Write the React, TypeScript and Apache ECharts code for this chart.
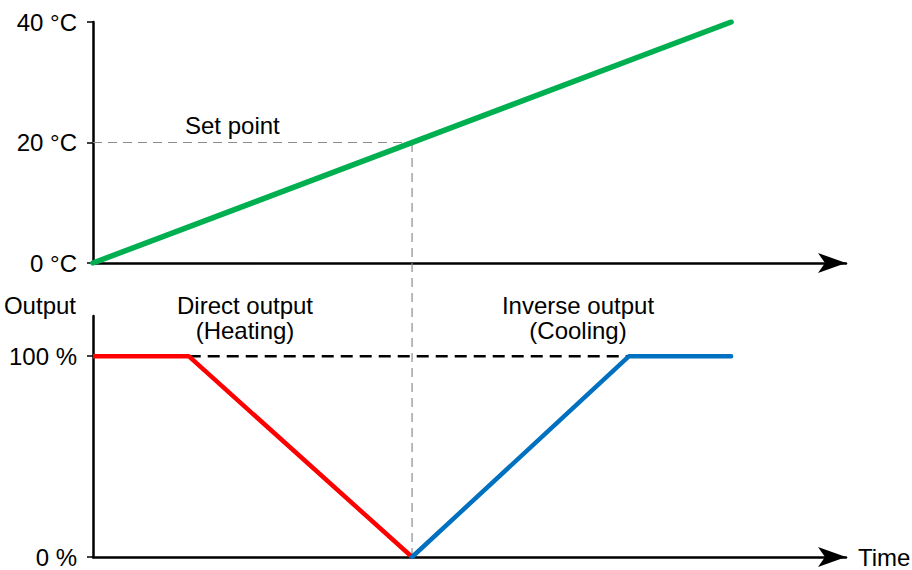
import React, { useEffect, useRef } from "react";
import * as echarts from "echarts";

// Time axis (arbitrary units): set point reached at t = 10
const temperature = [[0, 0], [20, 40]]; // time, °C
const setPoint = [[0, 20], [10, 20]];
const setPointDrop = [[10, 0], [10, 1]];
const heating = [[0, 100], [3, 100], [10, 0]]; // direct output (%)
const cooling = [[10, 0], [16.8, 100], [20, 100]]; // inverse output (%)
const fullOutput = [[3, 100], [16.8, 100]];
const tempTicks = [0, 20, 40];
const outputTicks = [0, 100];

const FONT = "'Liberation Sans', Arial, sans-serif";
const FS = 24;
const TMAX = 23.6;

export default function App() {
  const ref = useRef<HTMLDivElement>(null);
  useEffect(() => {
    document.body.style.margin = "0";
    const chart = echarts.init(ref.current!, null, { renderer: "svg" });
    const axisLine = { lineStyle: { color: "#000", width: 2.5 } };
    const labelStyle = { color: "#000", fontSize: FS, fontFamily: FONT };
    const textStyle = (text: string, x: number, y: number, align = "center") => ({
      type: "text",
      x,
      y,
      style: {
        text,
        fill: "#000",
        fontSize: FS,
        fontFamily: FONT,
        align,
        verticalAlign: "middle",
      },
    });
    chart.setOption({
      animation: false,
      grid: [
        { left: 93, top: 22, height: 241, right: 66 },
        { left: 93, top: 316, height: 241, right: 66 },
        { left: 93, top: 142.5, bottom: 13, right: 66 },
      ],
      xAxis: [
        {
          gridIndex: 0,
          type: "value",
          min: 0,
          max: TMAX,
          axisLine: { ...axisLine, symbol: ["none", "arrow"], symbolSize: [15, 28] },
          axisTick: { show: false },
          axisLabel: { show: false },
          splitLine: { show: false },
        },
        {
          gridIndex: 1,
          type: "value",
          min: 0,
          max: TMAX,
          name: "Time",
          nameLocation: "end",
          nameGap: 12,
          nameTextStyle: { ...labelStyle, align: "left", verticalAlign: "middle" },
          axisLine: { ...axisLine, symbol: ["none", "arrow"], symbolSize: [15, 28] },
          axisTick: { show: false },
          axisLabel: { show: false },
          splitLine: { show: false },
        },
        {
          gridIndex: 2,
          type: "value",
          min: 0,
          max: TMAX,
          show: false,
        },
      ],
      yAxis: [
        {
          gridIndex: 0,
          type: "value",
          min: 0,
          max: 40,
          interval: 20,
          axisLine: { ...axisLine, show: true },
          axisTick: {
            show: true,
            length: 6,
            customValues: tempTicks,
            lineStyle: { color: "#000", width: 1.5 },
          },
          axisLabel: {
            ...labelStyle,
            margin: 16,
            customValues: tempTicks,
            formatter: "{value} °C",
          },
          splitLine: { show: false },
        },
        {
          gridIndex: 1,
          type: "value",
          min: 0,
          max: 120,
          axisLine: { ...axisLine, show: true },
          axisTick: {
            show: true,
            length: 6,
            customValues: outputTicks,
            lineStyle: { color: "#000", width: 1.5 },
          },
          axisLabel: {
            ...labelStyle,
            margin: 16,
            customValues: outputTicks,
            formatter: "{value} %",
          },
          splitLine: { show: false },
        },
        {
          gridIndex: 2,
          type: "value",
          min: 0,
          max: 1,
          show: false,
        },
      ],
      series: [
        {
          type: "line",
          xAxisIndex: 0,
          yAxisIndex: 0,
          data: setPoint,
          showSymbol: false,
          lineStyle: { color: "#8c8c8c", width: 1.2, type: [9, 6] },
        },
        {
          type: "line",
          xAxisIndex: 2,
          yAxisIndex: 2,
          data: setPointDrop,
          showSymbol: false,
          lineStyle: { color: "#8c8c8c", width: 1.2, type: [9, 6] },
        },
        {
          type: "line",
          xAxisIndex: 0,
          yAxisIndex: 0,
          data: temperature,
          showSymbol: false,
          lineStyle: { color: "#00b050", width: 5.5, cap: "round" },
        },
        {
          type: "line",
          xAxisIndex: 1,
          yAxisIndex: 1,
          data: fullOutput,
          showSymbol: false,
          lineStyle: { color: "#000", width: 2.5, type: [12, 7] },
        },
        {
          type: "line",
          xAxisIndex: 1,
          yAxisIndex: 1,
          data: heating,
          showSymbol: false,
          lineStyle: { color: "#ff0000", width: 4.5 },
        },
        {
          type: "line",
          xAxisIndex: 1,
          yAxisIndex: 1,
          data: cooling,
          showSymbol: false,
          lineStyle: { color: "#0070c0", width: 4.5, cap: "round" },
        },
      ],
      graphic: [
        textStyle("Set point", 185, 125, "left"),
        textStyle("Output", 76, 305, "right"),
        textStyle("Direct output", 245, 305),
        textStyle("(Heating)", 245, 330),
        textStyle("Inverse output", 578, 305),
        textStyle("(Cooling)", 578, 330),
      ],
    });
    return () => chart.dispose();
  }, []);
  return <div ref={ref} style={{ width: 912, height: 570 }} />;
}
